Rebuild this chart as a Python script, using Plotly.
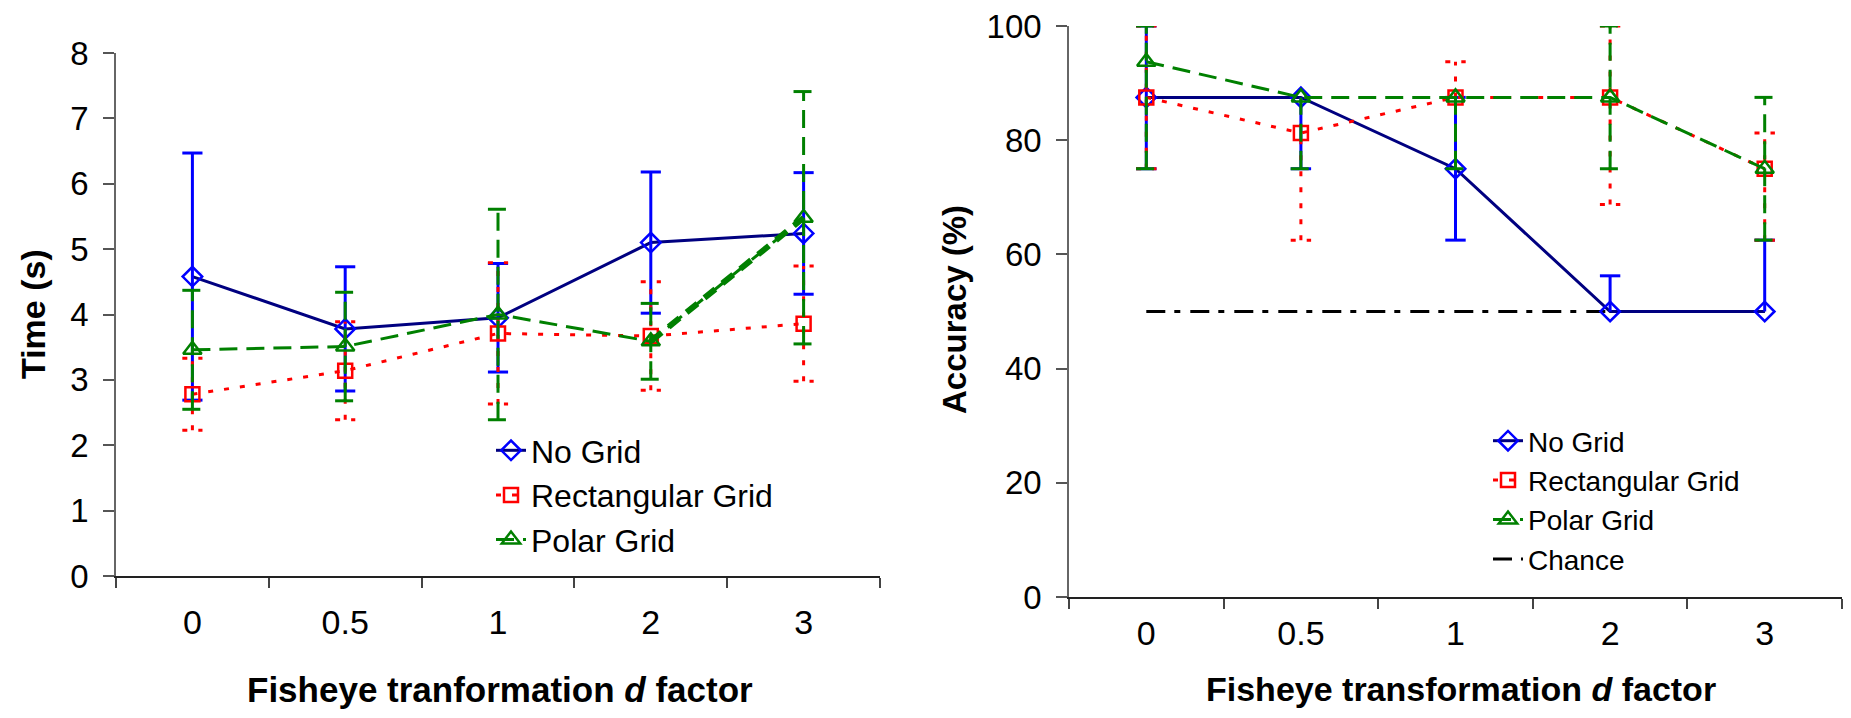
import plotly.graph_objects as go

# ---------------- data ----------------
categories = ["0", "0.5", "1", "2", "3"]

# Left chart: completion time (s), symmetric error
time_nogrid = [4.58, 3.78, 3.95, 5.10, 5.24]
time_nogrid_err = [1.89, 0.95, 0.83, 1.08, 0.93]
time_rect = [2.78, 3.14, 3.71, 3.67, 3.86]
time_rect_err = [0.55, 0.75, 1.08, 0.83, 0.88]
time_polar = [3.46, 3.51, 4.00, 3.59, 5.48]
time_polar_err = [0.91, 0.83, 1.61, 0.58, 1.93]

# Right chart: accuracy (%), asymmetric error
acc_nogrid = [87.5, 87.5, 75.0, 50.0, 50.0]
acc_nogrid_plus = [12.5, 0.0, 12.5, 6.25, 12.5]
acc_nogrid_minus = [12.5, 12.5, 12.5, 0.0, 0.0]
acc_rect = [87.5, 81.25, 87.5, 87.5, 75.0]
acc_rect_plus = [12.5, 0.0, 6.25, 12.5, 6.25]
acc_rect_minus = [12.5, 18.75, 0.0, 18.75, 12.5]
acc_polar = [93.75, 87.5, 87.5, 87.5, 75.0]
acc_polar_plus = [6.25, 0.0, 0.0, 12.5, 12.5]
acc_polar_minus = [18.75, 12.5, 12.5, 12.5, 12.5]
acc_chance = [50, 50, 50, 50, 50]

series_names = ["No Grid", "Rectangular Grid", "Polar Grid", "Chance"]
left_xtitle = "<b>Fisheye tranformation <i>d</i> factor</b>"
right_xtitle = "<b>Fisheye transformation <i>d</i> factor</b>"
left_ytitle = "<b>Time (s)</b>"
right_ytitle = "<b>Accuracy (%)</b>"

# ---------------- style ----------------
FONT = "Arial, Liberation Sans, sans-serif"
NAVY = "#000080"
BLUE = "#0000FF"
RED = "#FF0000"
GREEN = "#008000"
RED_DASH = "5px,11px"
GREEN_DASH = "18px,9px"
CHANCE_DASH = "19px,9px,6px,10px"
CAP = 0.066

xpos = list(range(len(categories)))


def err_path(vals, plus, minus):
    xs, ys = [], []
    for i, v in enumerate(vals):
        hi = v + plus[i]
        lo = v - minus[i]
        xs += [xpos[i], xpos[i], None]
        ys += [lo, hi, None]
        if plus[i] > 0:
            xs += [xpos[i] - CAP, xpos[i] + CAP, None]
            ys += [hi, hi, None]
        if minus[i] > 0:
            xs += [xpos[i] - CAP, xpos[i] + CAP, None]
            ys += [lo, lo, None]
    return xs, ys


fig = go.Figure()


def add_series(vals, plus, minus, name, lcolor, mcolor, symbol, msize, dash,
               ecolor, edash, xa, ya, leg):
    fig.add_trace(go.Scatter(
        x=xpos, y=vals, name=name, mode="lines+markers",
        line=dict(color=lcolor, width=3, dash=dash),
        marker=dict(symbol=symbol, size=msize, color=mcolor,
                    line=dict(width=2.5, color=mcolor)),
        xaxis=xa, yaxis=ya, legend=leg, legendrank=1000))
    ex, ey = err_path(vals, plus, minus)
    fig.add_trace(go.Scatter(
        x=ex, y=ey, mode="lines", showlegend=False, hoverinfo="skip",
        line=dict(color=ecolor, width=3, dash=edash),
        xaxis=xa, yaxis=ya))


# ---- left chart ----
add_series(time_nogrid, time_nogrid_err, time_nogrid_err, series_names[0],
           NAVY, BLUE, "diamond-open", 15, "solid", BLUE, "solid", "x", "y", "legend")
add_series(time_rect, time_rect_err, time_rect_err, series_names[1],
           RED, RED, "square-open", 14, RED_DASH, RED, RED_DASH, "x", "y", "legend")
add_series(time_polar, time_polar_err, time_polar_err, series_names[2],
           GREEN, GREEN, "triangle-up-open", 16, GREEN_DASH, GREEN, GREEN_DASH, "x", "y", "legend")
# thicker last segment of the polar grid line, as in the original
fig.add_trace(go.Scatter(
    x=xpos[3:5], y=time_polar[3:5], mode="lines", showlegend=False, hoverinfo="skip",
    line=dict(color=GREEN, width=6, dash="14px,9px"), xaxis="x", yaxis="y"))

# ---- right chart ----
fig.add_trace(go.Scatter(
    x=xpos, y=acc_chance, name=series_names[3], mode="lines",
    line=dict(color="black", width=3, dash=CHANCE_DASH),
    xaxis="x2", yaxis="y2", legend="legend2", legendrank=2000))
add_series(acc_nogrid, acc_nogrid_plus, acc_nogrid_minus, series_names[0],
           NAVY, BLUE, "diamond-open", 15, "solid", BLUE, "solid", "x2", "y2", "legend2")
add_series(acc_rect, acc_rect_plus, acc_rect_minus, series_names[1],
           RED, RED, "square-open", 14, RED_DASH, RED, RED_DASH, "x2", "y2", "legend2")
add_series(acc_polar, acc_polar_plus, acc_polar_minus, series_names[2],
           GREEN, GREEN, "triangle-up-open", 16, GREEN_DASH, GREEN, GREEN_DASH, "x2", "y2", "legend2")

# The page body has an 8px margin, so the figure is sized to fit inside it.
OFF = 8
W, H = 1851 - 2 * OFF, 718 - 2 * OFF


def px_x(v):
    return min(1.0, max(0.0, (v - OFF) / W))


def px_y(v):
    return min(1.0, max(0.0, 1 - (v - OFF) / H))


xaxis_common = dict(
    range=[-0.5, 4.5], tickmode="array", tickvals=xpos, ticktext=categories,
    ticks="", showgrid=False, zeroline=False, showline=True, automargin=False,
    linecolor="#222", linewidth=1.8, ticklabeloverflow="allow",
    tickfont=dict(family=FONT, size=34, color="black"),
    minor=dict(tickmode="array", tickvals=[p - 0.5 for p in xpos] + [xpos[-1] + 0.5],
               ticks="outside", ticklen=10, tickwidth=1.8, tickcolor="#444"),
)
yaxis_common = dict(
    ticks="outside", ticklen=11, tickwidth=1.5, tickcolor="#555", automargin=False,
    showgrid=False, zeroline=False, showline=True, linecolor="#666", linewidth=1.5,
    ticklabeloverflow="allow",
    tickfont=dict(family=FONT, size=33, color="black"), ticklabelstandoff=8,
)

fig.update_layout(
    template="none",
    width=W, height=H,
    margin=dict(l=0, r=0, t=0, b=0, autoexpand=False),
    paper_bgcolor="white", plot_bgcolor="white",
    font=dict(family=FONT, color="black"),
    xaxis=dict(domain=[px_x(116), px_x(880)], anchor="y", ticklabelstandoff=15, **xaxis_common),
    yaxis=dict(domain=[px_y(576), px_y(53)], anchor="x", range=[0, 8], dtick=1, **yaxis_common),
    xaxis2=dict(domain=[px_x(1069), px_x(1842)], anchor="y2", ticklabelstandoff=5, **xaxis_common),
    yaxis2=dict(domain=[px_y(597), px_y(26)], anchor="x2", range=[0, 100], dtick=20, **yaxis_common),
    legend=dict(x=px_x(491), y=px_y(423), xanchor="left", yanchor="top",
                font=dict(family=FONT, size=32, color="black"),
                bgcolor="rgba(0,0,0,0)", borderwidth=0, tracegroupgap=0),
    legend2=dict(x=px_x(1488), y=px_y(416), xanchor="left", yanchor="top",
                 font=dict(family=FONT, size=28, color="black"),
                 bgcolor="rgba(0,0,0,0)", borderwidth=0, tracegroupgap=0, traceorder="normal"),
    showlegend=True,
    annotations=[
        dict(text=left_xtitle, x=px_x(500), y=px_y(689), xref="paper", yref="paper",
             showarrow=False, xanchor="center", yanchor="middle",
             font=dict(family=FONT, size=35, color="black")),
        dict(text=right_xtitle, x=px_x(1461), y=0, xref="paper", yref="paper",
             showarrow=False, xanchor="center", yanchor="bottom",
             font=dict(family=FONT, size=34, color="black")),
        dict(text=left_ytitle, x=px_x(33), y=px_y(314), xref="paper", yref="paper",
             showarrow=False, xanchor="center", yanchor="middle", textangle=-90,
             font=dict(family=FONT, size=34, color="black")),
        dict(text=right_ytitle, x=px_x(955), y=px_y(309), xref="paper", yref="paper",
             showarrow=False, xanchor="center", yanchor="middle", textangle=-90,
             font=dict(family=FONT, size=33, color="black")),
    ],
)

fig.write_html("out.html")
